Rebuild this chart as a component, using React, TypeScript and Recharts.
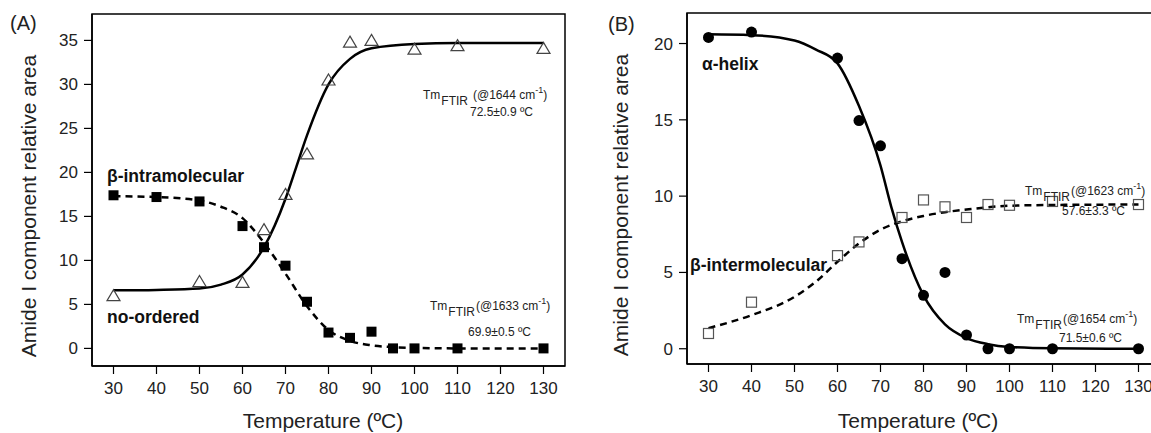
import React from "react";
import {
  ComposedChart,
  Line,
  Scatter,
  XAxis,
  YAxis,
  ReferenceArea,
} from "recharts";

const FONT = '"Liberation Sans", Arial, Helvetica, sans-serif';
const TEXT = "#222";

// ---- panel (A) ----
const triTempA = [30, 50, 60, 65, 70, 75, 80, 85, 90, 100, 110, 130];
const triAreaA = [6.0, 7.6, 7.5, 13.5, 17.5, 22.1, 30.5, 34.8, 35.0, 34.0, 34.4, 34.1];
const sqTempA = [30, 40, 50, 60, 65, 70, 75, 80, 85, 90, 95, 100, 110, 130];
const sqAreaA = [17.4, 17.2, 16.7, 13.9, 11.5, 9.4, 5.3, 1.8, 1.2, 1.9, 0, 0, 0, 0];
const fitUpTempA = [30, 40, 50, 55, 60, 65, 70, 72.5, 75, 80, 85, 90, 100, 110, 130];
const fitUpAreaA = [6.6, 6.65, 6.8, 7.25, 8.4, 11.5, 17.0, 20.6, 24.2, 30.0, 32.9, 34.1, 34.6, 34.7, 34.7];
const fitDownTempA = [30, 40, 50, 55, 60, 65, 70, 75, 80, 85, 90, 95, 100, 110, 130];
const fitDownAreaA = [17.3, 17.2, 16.8, 16.1, 14.8, 12.0, 8.5, 4.8, 2.1, 0.85, 0.35, 0.15, 0.05, 0, 0];
const yTicksA = [0, 5, 10, 15, 20, 25, 30, 35];

// ---- panel (B) ----
const dotTempB = [30, 40, 60, 65, 70, 75, 80, 85, 90, 95, 100, 110, 130];
const dotAreaB = [20.4, 20.75, 19.05, 14.95, 13.3, 5.9, 3.5, 5.0, 0.9, 0, 0, 0, 0];
const boxTempB = [30, 40, 60, 65, 75, 80, 85, 90, 95, 100, 110, 130];
const boxAreaB = [1.0, 3.05, 6.1, 7.0, 8.6, 9.75, 9.3, 8.6, 9.45, 9.4, 9.65, 9.45];
const fitDownTempB = [30, 40, 50, 55, 60, 65, 70, 72.5, 75, 80, 85, 90, 95, 100, 110, 130];
const fitDownAreaB = [20.6, 20.55, 20.2, 19.6, 18.7, 15.9, 12.0, 9.3, 7.0, 3.5, 1.6, 0.7, 0.3, 0.12, 0.03, 0];
const fitUpTempB = [30, 40, 50, 55, 60, 65, 70, 75, 80, 85, 90, 100, 110, 130];
const fitUpAreaB = [1.35, 2.2, 3.4, 4.4, 5.7, 6.9, 7.8, 8.35, 8.7, 8.95, 9.12, 9.37, 9.42, 9.45];
const yTicksB = [0, 5, 10, 15, 20];

const xTicks = [30, 40, 50, 60, 70, 80, 90, 100, 110, 120, 130];

const pts = (xs: number[], ys: number[]) => xs.map((x, i) => ({ x, y: ys[i] }));

const Triangle = (p: any) => (
  <path
    d={`M${p.cx},${p.cy - 6} L${p.cx + 6.5},${p.cy + 5} L${p.cx - 6.5},${p.cy + 5} Z`}
    fill="none"
    stroke="#444"
    strokeWidth={1.2}
  />
);
const FilledSquare = (p: any) => (
  <rect x={p.cx - 5} y={p.cy - 5} width={10} height={10} fill="#000" />
);
const OpenSquare = (p: any) => (
  <rect x={p.cx - 5} y={p.cy - 5} width={10} height={10} fill="none" stroke="#555" strokeWidth={1.2} />
);
const FilledDot = (p: any) => <circle cx={p.cx} cy={p.cy} r={5.5} fill="#000" />;

const tickStyle = { fontSize: 17, fill: TEXT, fontFamily: FONT };

const axes = (domain: [number, number], ticks: number[]) => [
  <XAxis
    key="x"
    type="number"
    dataKey="x"
    domain={[25, 135]}
    ticks={xTicks}
    allowDataOverflow
    height={40}
    tickSize={8}
    tickMargin={8}
    tick={tickStyle}
    axisLine={{ stroke: "#000", strokeWidth: 1.5 }}
    tickLine={{ stroke: "#000", strokeWidth: 1.2 }}
  />,
  <YAxis
    key="y"
    type="number"
    dataKey="y"
    domain={domain}
    ticks={ticks}
    allowDataOverflow
    width={60}
    tickSize={8}
    tickMargin={6}
    tick={tickStyle}
    axisLine={{ stroke: "#000", strokeWidth: 1.5 }}
    tickLine={{ stroke: "#000", strokeWidth: 1.2 }}
  />,
];

const ChartA = () => (
  <ComposedChart width={600} height={433} margin={{ top: 14, right: 35, bottom: 27, left: 32 }}>
    {axes([-2, 38], yTicksA)}
    <ReferenceArea x1={25} x2={135} y1={-2} y2={38} fill="none" stroke="#000" strokeWidth={1.5} fillOpacity={0} />
    <Scatter data={pts(triTempA, triAreaA)} dataKey="y" shape={Triangle} isAnimationActive={false} />
    <Line data={pts(fitUpTempA, fitUpAreaA)} dataKey="y" type="monotone" stroke="#000" strokeWidth={2.5} dot={false} activeDot={false} isAnimationActive={false} />
    <Line data={pts(fitDownTempA, fitDownAreaA)} dataKey="y" type="monotone" stroke="#000" strokeWidth={2.5} strokeDasharray="7 5" dot={false} activeDot={false} isAnimationActive={false} />
    <Scatter data={pts(sqTempA, sqAreaA)} dataKey="y" shape={FilledSquare} isAnimationActive={false} />
  </ComposedChart>
);

const ChartB = () => (
  <ComposedChart width={600} height={433} margin={{ top: 13, right: 40, bottom: 29, left: 27 }}>
    {axes([-1, 22], yTicksB)}
    <ReferenceArea x1={25} x2={135} y1={-1} y2={22} fill="none" stroke="#000" strokeWidth={1.5} fillOpacity={0} />
    <Scatter data={pts(boxTempB, boxAreaB)} dataKey="y" shape={OpenSquare} isAnimationActive={false} />
    <Line data={pts(fitUpTempB, fitUpAreaB)} dataKey="y" type="monotone" stroke="#000" strokeWidth={2.5} strokeDasharray="7 5" dot={false} activeDot={false} isAnimationActive={false} />
    <Line data={pts(fitDownTempB, fitDownAreaB)} dataKey="y" type="monotone" stroke="#000" strokeWidth={2.5} dot={false} activeDot={false} isAnimationActive={false} />
    <Scatter data={pts(dotTempB, dotAreaB)} dataKey="y" shape={FilledDot} isAnimationActive={false} />
  </ComposedChart>
);

const TmLabel = ({ x, y, wave, gap }: { x: number; y: number; wave: string; gap: boolean }) => (
  <text x={x} y={y} fontSize={12} fill={TEXT} fontFamily={FONT}>
    Tm
    <tspan dy={6} dx={1}>FTIR</tspan>
    <tspan dy={-6} dx={gap ? 5 : 1}>(@{wave} cm</tspan>
    <tspan dy={-6} fontSize={9}>-1</tspan>
    <tspan dy={6}>)</tspan>
  </text>
);

const Overlay = () => (
  <svg width={1151} height={433} style={{ position: "absolute", left: 0, top: 0, pointerEvents: "none" }}>
    <g fontFamily={FONT} fill={TEXT}>
      <text x={10} y={30} fontSize={20}>(A)</text>
      <text x={608} y={31} fontSize={20}>(B)</text>

      <text transform="translate(36,206) rotate(-90)" textAnchor="middle" fontSize={21}>Amide I component relative area</text>
      <text transform="translate(628,205) rotate(-90)" textAnchor="middle" fontSize={21}>Amide I component relative area</text>
      <text x={323} y={428} textAnchor="middle" fontSize={21}>Temperature (ºC)</text>
      <text x={918} y={428} textAnchor="middle" fontSize={21}>Temperature (ºC)</text>

      <g fontWeight="bold" fontSize={17.5} fill="#111">
        <text x={107} y={182}>β-intramolecular</text>
        <text x={107} y={323}>no-ordered</text>
        <text x={702} y={70}>α-helix</text>
        <text x={690} y={271}>β-intermolecular</text>
      </g>

      <TmLabel x={423} y={99} wave="1644" gap />
      <text x={470} y={116} fontSize={12}>72.5±0.9 ºC</text>
      <TmLabel x={430} y={310} wave="1633" gap={false} />
      <text x={468} y={336} fontSize={12}>69.9±0.5 ºC</text>

      <TmLabel x={1025} y={195} wave="1623" gap={false} />
      <text x={1062} y={215} fontSize={12}>57.6±3.3 ºC</text>
      <TmLabel x={1017} y={323} wave="1654" gap={false} />
      <text x={1059} y={342} fontSize={12}>71.5±0.6 ºC</text>
    </g>
  </svg>
);

export default function App() {
  return (
    <div
      style={{
        position: "fixed",
        left: 0,
        top: 0,
        width: 1151,
        height: 433,
        overflow: "hidden",
        background: "#fff",
      }}
    >
      <div style={{ position: "absolute", left: 0, top: 0 }}>
        <ChartA />
      </div>
      <div style={{ position: "absolute", left: 600, top: 0 }}>
        <ChartB />
      </div>
      <Overlay />
    </div>
  );
}
